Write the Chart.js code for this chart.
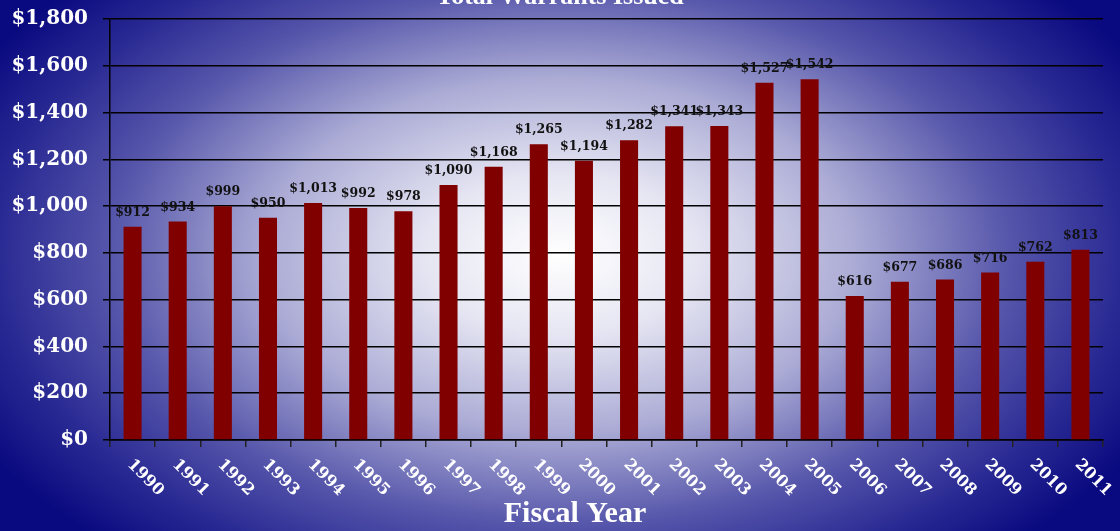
<!DOCTYPE html>
<html>
<head>
<meta charset="utf-8">
<style>
  html, body { margin: 0; padding: 0; background: #0a0a80; }
  #wrap { width: 1120px; height: 531px; }
</style>
<script src="https://cdn.jsdelivr.net/npm/chart.js@4.4.1/dist/chart.umd.min.js"></script>
</head>
<body>
<div id="wrap"><canvas id="warrantsChart" width="1120" height="531"></canvas></div>
<script>
const years = ['1990', '1991', '1992', '1993', '1994', '1995', '1996', '1997', '1998', '1999', '2000',
    '2001', '2002', '2003', '2004', '2005', '2006', '2007', '2008', '2009', '2010', '2011'];
const warrants = [912, 934, 999, 950, 1013, 992, 978, 1090, 1168, 1265, 1194,
    1282, 1341, 1343, 1527, 1542, 616, 677, 686, 716, 762, 813];
const yTicks = [0, 200, 400, 600, 800, 1000, 1200, 1400, 1600, 1800];

const chartTitle = 'Total Warrants Issued';
const axisTitle = 'Fiscal Year';
const wideSerif = '"DejaVu Serif", serif';
const titleSerif = '"Liberation Serif", serif';

function money(v) {
    return '$' + v.toLocaleString('en-US');
}

// Navy backdrop with a soft white glow in the middle
const backdrop = {
    id: 'backdrop',
    beforeDraw(chart) {
        const ctx = chart.ctx;
        const w = chart.width, h = chart.height;
        ctx.save();
        ctx.fillStyle = '#0a0a80';
        ctx.fillRect(0, 0, w, h);
        ctx.translate(560, 255);
        ctx.scale(1, 0.6);
        const g = ctx.createRadialGradient(0, 0, 0, 0, 0, 660);
        g.addColorStop(0, '#ffffff');
        g.addColorStop(0.2, '#e6e6f3');
        g.addColorStop(0.45, '#aaaad5');
        g.addColorStop(0.68, '#5656ab');
        g.addColorStop(0.85, '#2a2a94');
        g.addColorStop(1, '#0a0a80');
        ctx.fillStyle = g;
        ctx.fillRect(-800, -800, 1600, 1600);
        ctx.restore();
    }
};

// Value labels, rotated year labels and the titles
const annotations = {
    id: 'annotations',
    afterDatasetsDraw(chart) {
        const ctx = chart.ctx;
        const x = chart.scales.x;
        const y = chart.scales.y;
        ctx.save();

        ctx.fillStyle = '#111';
        ctx.font = 'bold 12.5px ' + wideSerif;
        ctx.textAlign = 'center';
        ctx.textBaseline = 'alphabetic';
        warrants.forEach((v, i) => {
            ctx.fillText(money(v), x.getPixelForValue(i), y.getPixelForValue(v) - 11);
        });

        ctx.fillStyle = '#fff';
        ctx.font = 'bold 16px ' + wideSerif;
        ctx.textAlign = 'left';
        ctx.textBaseline = 'middle';
        years.forEach((yr, i) => {
            ctx.save();
            ctx.translate(x.getPixelForValue(i) - 3, y.bottom + 22);
            ctx.rotate(Math.PI / 4);
            ctx.fillText(yr, 0, 0);
            ctx.restore();
        });

        ctx.font = 'bold 30px ' + titleSerif;
        ctx.textAlign = 'center';
        ctx.textBaseline = 'alphabetic';
        ctx.fillText(axisTitle, 575, 522);

        ctx.font = 'bold 26px ' + titleSerif;
        ctx.fillText(chartTitle, 560, 4);
        ctx.restore();
    }
};

const ctx = document.getElementById('warrantsChart').getContext('2d');
const warrantsChart = new Chart(ctx, {
    type: 'bar',
    data: {
        labels: years,
        datasets: [{
            label: chartTitle,
            data: warrants,
            backgroundColor: '#800000',
            borderWidth: 0,
            barPercentage: 0.8,
            categoryPercentage: 0.5
        }]
    },
    options: {
        responsive: false,
        animation: false,
        layout: { padding: { left: 0, right: 17, top: 19, bottom: 0 } },
        plugins: {
            legend: { display: false },
            tooltip: { enabled: false },
            title: { display: false }
        },
        scales: {
            x: {
                offset: true,
                grid: {
                    offset: true,
                    drawOnChartArea: false,
                    drawTicks: true,
                    tickLength: 7,
                    color: '#222',
                    lineWidth: 1.5
                },
                border: { display: true, color: '#000', width: 1.5 },
                ticks: { display: false },
                afterFit(scale) { scale.height = 91; }
            },
            y: {
                min: 0,
                max: 1800,
                afterBuildTicks(scale) {
                    scale.ticks = yTicks.map(v => ({ value: v }));
                },
                grid: {
                    color: '#000',
                    lineWidth: 1.5,
                    tickLength: 7
                },
                border: { display: true, color: '#000', width: 1.5 },
                ticks: {
                    color: '#fff',
                    padding: 15,
                    font: { family: wideSerif, size: 20, weight: 'bold' },
                    callback: v => money(v)
                },
                afterFit(scale) {
                    scale.width = 110;
                    scale.paddingTop = 0;
                    scale.paddingBottom = 0;
                }
            }
        }
    },
    plugins: [backdrop, annotations]
});
</script>
</body>
</html>
